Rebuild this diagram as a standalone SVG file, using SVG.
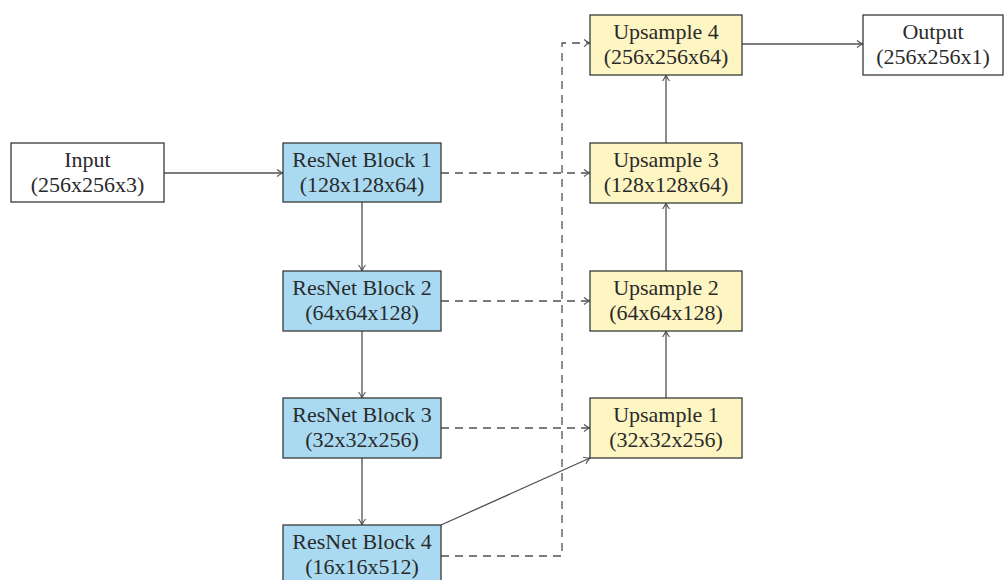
<svg xmlns="http://www.w3.org/2000/svg" width="1004" height="580" viewBox="0 0 1004 580">
<defs>
<style>
.box{stroke:#3a3a3a;stroke-width:1.3}
.w{fill:#ffffff}
.b{fill:#a9daf2}
.y{fill:#fdf6c3}
text{font-family:"Liberation Serif","Times New Roman",serif;font-size:22px;fill:#2a2a2a;text-anchor:middle}
.c{fill:none;stroke:#505050;stroke-width:1.3}
.d{stroke-dasharray:8,6}
</style>
<marker id="ah" viewBox="0 0 10 10" refX="9" refY="5" markerWidth="10" markerHeight="10" markerUnits="userSpaceOnUse" orient="auto">
<path d="M3,1.5 Q6,4 9,5 Q6,6 3,8.5" fill="none" stroke="#505050" stroke-width="1.1"/>
</marker>
</defs>
<rect width="1004" height="580" fill="#ffffff"/>
<g id="connectors">
<line class="c" x1="164" y1="173" x2="283" y2="173" marker-end="url(#ah)"/>
<line class="c" x1="362" y1="202" x2="362" y2="271" marker-end="url(#ah)"/>
<line class="c" x1="362" y1="331" x2="362" y2="398" marker-end="url(#ah)"/>
<line class="c" x1="362" y1="458" x2="362" y2="525" marker-end="url(#ah)"/>
<line class="c" x1="441" y1="525" x2="590" y2="458" marker-end="url(#ah)"/>
<line class="c" x1="666" y1="398" x2="666" y2="331" marker-end="url(#ah)"/>
<line class="c" x1="666" y1="271" x2="666" y2="203" marker-end="url(#ah)"/>
<line class="c" x1="666" y1="143" x2="666" y2="75" marker-end="url(#ah)"/>
<line class="c" x1="742" y1="44" x2="863" y2="44" marker-end="url(#ah)"/>
<line class="c d" x1="441" y1="173" x2="590" y2="173" marker-end="url(#ah)"/>
<line class="c d" x1="441" y1="301" x2="590" y2="301" marker-end="url(#ah)"/>
<line class="c d" x1="441" y1="428" x2="590" y2="428" marker-end="url(#ah)"/>
<polyline class="c d" points="441,556 562,556 562,43 590,43" marker-end="url(#ah)"/>
</g>
<g id="input">
<rect class="box w" x="11" y="143" width="153" height="59"/>
<text x="87.5" y="167">Input</text>
<text x="87.5" y="192">(256x256x3)</text>
</g>
<g id="resnet1">
<rect class="box b" x="283" y="143" width="158" height="59"/>
<text x="362" y="167">ResNet Block 1</text>
<text x="362" y="192">(128x128x64)</text>
</g>
<g id="resnet2">
<rect class="box b" x="283" y="271" width="158" height="60"/>
<text x="362" y="295">ResNet Block 2</text>
<text x="362" y="320">(64x64x128)</text>
</g>
<g id="resnet3">
<rect class="box b" x="283" y="398" width="158" height="60"/>
<text x="362" y="422">ResNet Block 3</text>
<text x="362" y="447">(32x32x256)</text>
</g>
<g id="resnet4">
<rect class="box b" x="283" y="525" width="158" height="60"/>
<text x="362" y="549">ResNet Block 4</text>
<text x="362" y="574">(16x16x512)</text>
</g>
<g id="upsample1">
<rect class="box y" x="590" y="398" width="152" height="60"/>
<text x="666" y="422">Upsample 1</text>
<text x="666" y="447">(32x32x256)</text>
</g>
<g id="upsample2">
<rect class="box y" x="590" y="271" width="152" height="60"/>
<text x="666" y="295">Upsample 2</text>
<text x="666" y="320">(64x64x128)</text>
</g>
<g id="upsample3">
<rect class="box y" x="590" y="143" width="152" height="60"/>
<text x="666" y="167">Upsample 3</text>
<text x="666" y="192">(128x128x64)</text>
</g>
<g id="upsample4">
<rect class="box y" x="590" y="15" width="152" height="60"/>
<text x="666" y="39">Upsample 4</text>
<text x="666" y="64">(256x256x64)</text>
</g>
<g id="output">
<rect class="box w" x="863" y="15" width="140" height="60"/>
<text x="933" y="39">Output</text>
<text x="933" y="64">(256x256x1)</text>
</g>
</svg>
